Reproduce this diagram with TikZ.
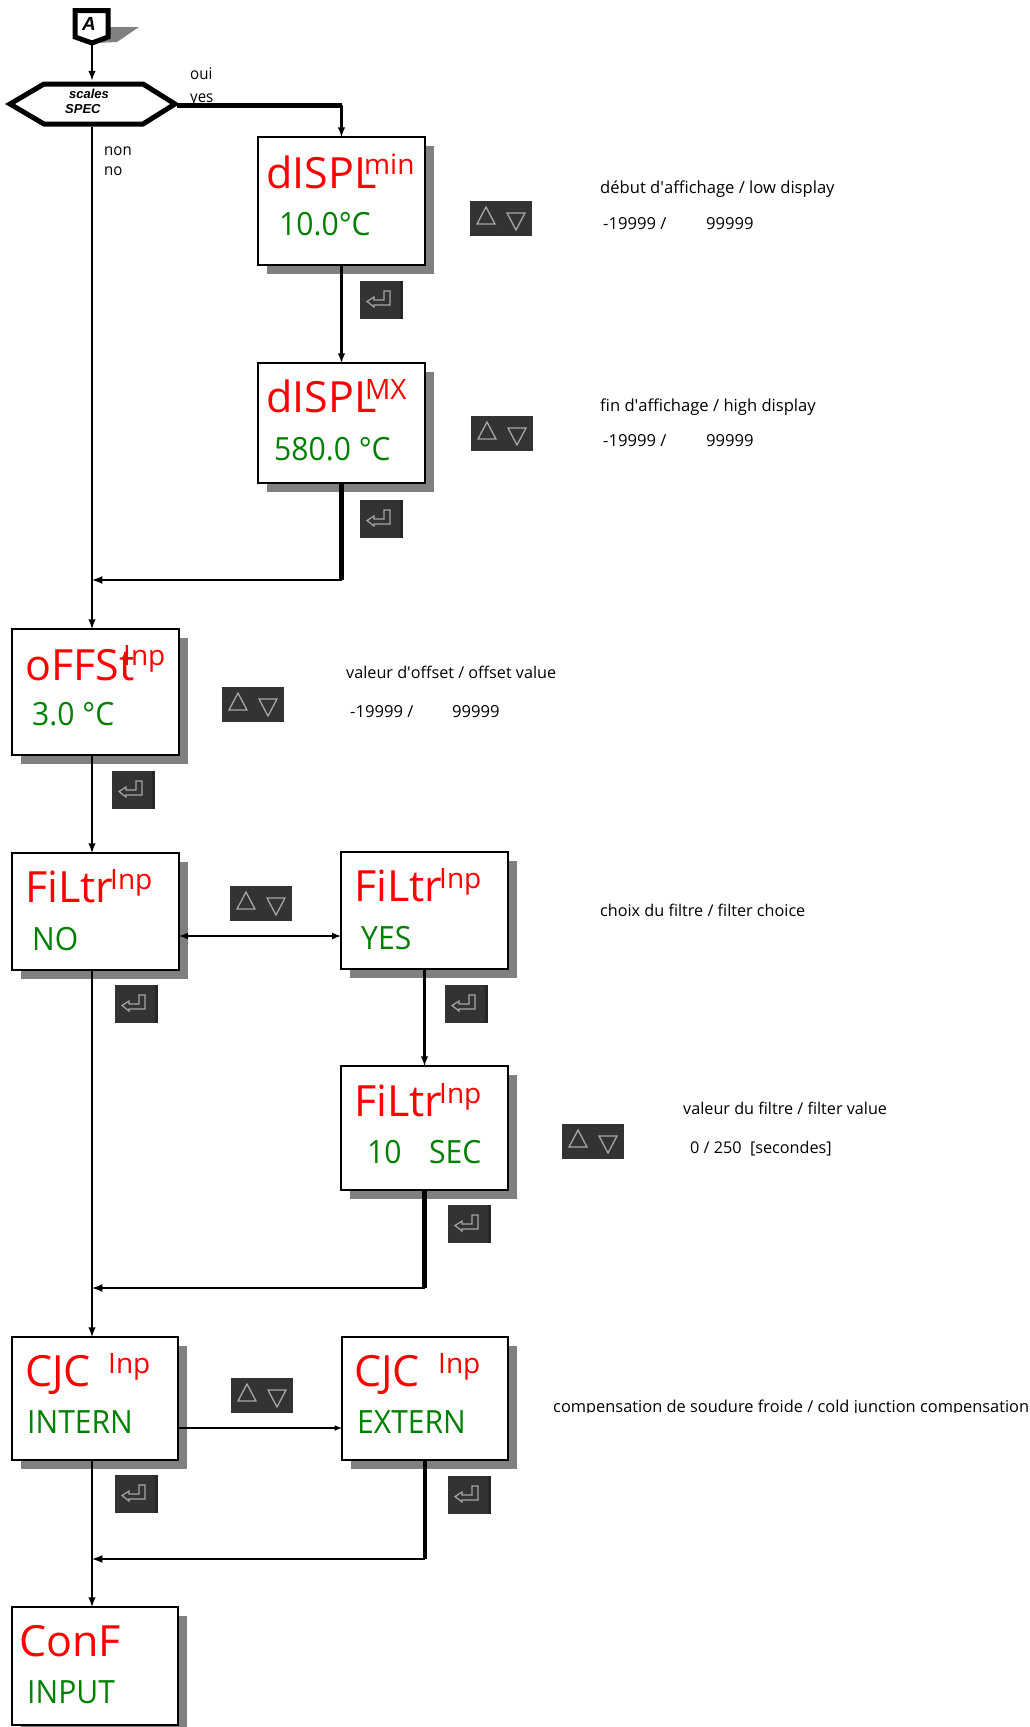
\documentclass[tikz,border=0pt]{standalone}
\usepackage{fontspec}
\setmainfont{Open Sans}
\newfontfamily\arialfont{Liberation Sans}
\newfontfamily\narrowfont[FakeStretch=0.94]{Open Sans}
\usetikzlibrary{shadows}
\definecolor{keydark}{RGB}{51,51,51}
\definecolor{shadegray}{RGB}{128,128,128}
\definecolor{greentxt}{RGB}{0,128,0}
\tikzset{
  menubox/.style={draw,line width=2pt,fill=white,anchor=north west,inner sep=0pt,outer sep=0pt,
    drop shadow={shadow xshift=9pt,shadow yshift=-9pt,fill=shadegray,opacity=1}},
  redlabel/.style={anchor=base west,inner sep=0pt,red,font=\fontsize{43}{43}\selectfont},
  suplabel/.style={anchor=base west,inner sep=0pt,red,font=\fontsize{28}{28}\selectfont},
  greenlabel/.style={anchor=base west,inner sep=0pt,greentxt,font=\narrowfont\fontsize{32}{32}\selectfont},
  smalllabel/.style={anchor=base west,inner sep=0pt,font=\narrowfont\fontsize{16}{16}\selectfont},
  infolabel/.style={anchor=base west,inner sep=0pt,font=\fontsize{16.6}{16.6}\selectfont},
  tightlabel/.style={anchor=base west,inner sep=0pt,font=\fontsize{16.2}{16.2}\selectfont},
  arrowline/.style={->,line width=2.3pt},
  heavyline/.style={line width=4.5pt},
  updown/.pic={
    \fill[keydark] (0,0) rectangle (62,35);
    \draw[gray!70,line width=1.3pt] (7,23)--(25,23)--(16,6)--cycle;
    \draw[gray!70,line width=1.3pt] (37,12)--(55,12)--(46,29)--cycle;
  },
  enterkey/.pic={
    \fill[keydark] (0,0) rectangle (43,38);
    \fill[black!85] (40,0) rectangle (43,38);
    \draw[gray!70,line width=1.2pt] (30,10)--(30,24)--(14,24)--(14,26)--(7,20.5)--(14,16)--(14,19)--(24,19)--(24,10)--cycle;
  }
}
\begin{document}
\begin{tikzpicture}[x=1pt,y=-1pt,>=latex]
\useasboundingbox (0,0) rectangle (1030,1727);
\coordinate (trunk) at (92,0);
% start tag and hexagon
\fill[shadegray] (110,27)--(139,27)--(117,42)--(95,43)--cycle;
\node[inner sep=0pt,outer sep=0pt,minimum size=0pt] (tag) at (92,43) {};
\draw[line width=5pt,fill=white,miter limit=3] (75,10.5)--(108,10.5)--(108,37)--(92,43)--(75,37)--cycle;
\node[anchor=base west,inner sep=0pt,font=\arialfont\bfseries\itshape\fontsize{19}{19}\selectfont] (tagA) at (82,30) {A};
\node[inner sep=0pt,outer sep=0pt] (hexin) at (92,81) {};
\node[inner sep=0pt,outer sep=0pt] (hexout) at (92,126) {};
\node[inner sep=0pt,outer sep=0pt] (hexyes) at (176,105) {};
\draw[line width=5pt,fill=white] (10,104)--(44,84)--(143,84)--(175,104)--(143,124)--(44,124)--cycle;
\node[anchor=base west,inner sep=0pt,font=\arialfont\bfseries\itshape\fontsize{13}{13}\selectfont] (scales) at (69,98) {scales};
\node[anchor=base west,inner sep=0pt,font=\arialfont\bfseries\itshape\fontsize{13}{13}\selectfont] (spec) at (65,113) {SPEC};
\node[smalllabel] (oui) at (190,79) {oui};
\node[smalllabel] (yes) at (190,102) {yes};
\node[smalllabel] (non) at (104,155) {non};
\node[smalllabel] (no) at (104,175) {no};
% boxes
\node[menubox,minimum width=167pt,minimum height=128pt] (dmin) at (258,137) {};
\node[menubox,minimum width=167pt,minimum height=120pt] (dmax) at (258,363) {};
\node[menubox,minimum width=167pt,minimum height=126pt] (offs) at (12,629) {};
\node[menubox,minimum width=167pt,minimum height=117pt] (filno) at (12,853) {};
\node[menubox,minimum width=167pt,minimum height=117pt] (filyes) at (341,852) {};
\node[menubox,minimum width=167pt,minimum height=124pt] (filval) at (341,1066) {};
\node[menubox,minimum width=166pt,minimum height=123pt] (cjcint) at (12,1337) {};
\node[menubox,minimum width=166pt,minimum height=123pt] (cjcext) at (342,1337) {};
\node[menubox,minimum width=166pt,minimum height=118pt] (conf) at (12,1607) {};
% box texts
\node[redlabel] (dminA) at (266,188) {dISPL};
\node[suplabel] (dminB) at (364,174) {min};
\node[greenlabel] (dminC) at (279,235) {10.0°C};
\node[redlabel] (dmaxA) at (266,412) {dISPL};
\node[suplabel] (dmaxB) at (365,399) {MX};
\node[greenlabel] (dmaxC) at (274,460) {580.0 °C};
\node[redlabel] (offsA) at (25,680) {oFFSt};
\node[suplabel] (offsB) at (123,665) {Inp};
\node[greenlabel] (offsC) at (32,725) {3.0 °C};
\node[redlabel] (filnoA) at (25,902) {FiLtr};
\node[suplabel] (filnoB) at (110,889) {Inp};
\node[greenlabel] (filnoC) at (32,950) {NO};
\node[redlabel] (filyesA) at (354,901) {FiLtr};
\node[suplabel] (filyesB) at (439,888) {Inp};
\node[greenlabel] (filyesC) at (361,949) {YES};
\node[redlabel] (filvalA) at (354,1116) {FiLtr};
\node[suplabel] (filvalB) at (439,1103) {Inp};
\node[greenlabel] (filvalC) at (367,1163) {10};
\node[greenlabel] (filvalD) at (429,1163) {SEC};
\node[redlabel] (cjcintA) at (25,1386) {CJC};
\node[suplabel] (cjcintB) at (108,1373) {Inp};
\node[greenlabel] (cjcintC) at (27,1433) {INTERN};
\node[redlabel] (cjcextA) at (354,1386) {CJC};
\node[suplabel] (cjcextB) at (438,1373) {Inp};
\node[greenlabel] (cjcextC) at (357,1433) {EXTERN};
\node[redlabel] (confA) at (19,1656) {ConF};
\node[greenlabel] (confB) at (27,1703) {INPUT};
% connectors
\coordinate (jdisp) at (dmax.south |- 0,580);
\coordinate (jfilt) at (filval.south |- 0,1288);
\coordinate (jcjc) at (cjcext.south |- 0,1559);
\draw[arrowline] (tag)--(hexin);
\draw[arrowline] (hexout)--(offs.north -| trunk);
\draw[line width=5pt] (hexyes)--(hexyes -| dmin.north);
\draw[arrowline] (hexyes -| dmin.north)--(dmin.north);
\draw[arrowline] (dmin.south)--(dmax.north);
\draw[heavyline] (dmax.south)--(jdisp);
\draw[line width=2.5pt,->] (jdisp)--(jdisp -| trunk);
\draw[arrowline] (offs.south -| trunk)--(filno.north -| trunk);
\draw[<->,line width=2pt] (filno.east |- 0,936)--(filyes.west |- 0,936);
\draw[arrowline] (filyes.south)--(filval.north);
\draw[arrowline] (filno.south -| trunk)--(cjcint.north -| trunk);
\draw[heavyline] (filval.south)--(jfilt);
\draw[line width=2.5pt,->] (jfilt)--(jfilt -| trunk);
\draw[line width=1.5pt,->] (cjcint.east |- 0,1428)--(cjcext.west |- 0,1428);
\draw[arrowline] (cjcint.south -| trunk)--(conf.north -| trunk);
\draw[heavyline] (cjcext.south)--(jcjc);
\draw[line width=2.5pt,->] (jcjc)--(jcjc -| trunk);
% keys
\foreach \x/\y in {470/201,471/416,222/687,230/886,562/1124,231/1378} \pic at (\x,\y) {updown};
\foreach \x/\y in {360/281,360/500,112/771,115/985,445/985,448/1205,115/1475,448/1476} \pic at (\x,\y) {enterkey};
% notes
\node[infolabel] (noteA) at (600,193) {début d\textquotesingle affichage / low display};
\node[infolabel] (rangeA) at (603,229) {-19999 /};
\node[infolabel] (rangeB) at (706,229) {99999};
\node[infolabel] (noteB) at (600,411) {fin d\textquotesingle affichage / high display};
\node[infolabel] (rangeC) at (603,446) {-19999 /};
\node[infolabel] (rangeD) at (706,446) {99999};
\node[tightlabel] (noteC) at (346,678) {valeur d\textquotesingle offset / offset value};
\node[infolabel] (rangeE) at (350,717) {-19999 /};
\node[infolabel] (rangeF) at (452,717) {99999};
\node[tightlabel] (noteD) at (600,916) {choix du filtre / filter choice};
\node[tightlabel] (noteE) at (683,1114) {valeur du filtre / filter value};
\node[tightlabel] (rangeG) at (690,1153) {0 / 250\ \ [secondes]};
\begin{scope}
\clip (540,1390) rectangle (1030,1412);
\node[anchor=base west,inner sep=0pt,font=\fontsize{16.4}{16.4}\selectfont] (noteF) at (553,1412) {compensation de soudure froide / cold junction compensation};
\end{scope}
\end{tikzpicture}
\end{document}
